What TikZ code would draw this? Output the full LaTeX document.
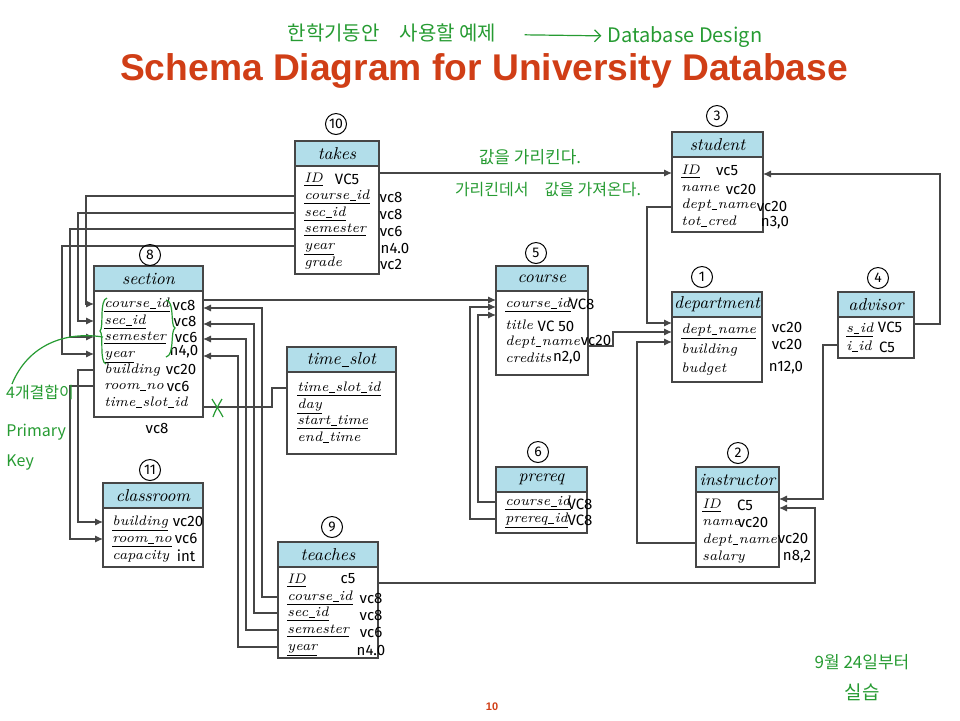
\documentclass[tikz,border=0pt]{standalone}
\usepackage{fontspec}
\newfontfamily\kfont{Noto Sans CJK KR}
\newfontfamily\headfont{Liberation Sans}
\newfontfamily\penfont{Fira Sans}
\usepackage{xcolor}
\usetikzlibrary{positioning, arrows.meta}

\definecolor{hdrblue}{RGB}{178,222,234}
\definecolor{frame}{RGB}{70,70,70}
\definecolor{titlered}{RGB}{208,62,22}
\definecolor{pen}{RGB}{38,155,50}

% short underscore for attribute names
\newcommand{\usc}{\kern.04em\rule[-.12em]{.42em}{.045em}\kern.04em}

\begin{document}
\begin{tikzpicture}[
    x=0.5pt, y=-0.5pt,
    hdr/.style  = {draw=frame, line width=0.6pt, fill=hdrblue, anchor=north west,
                   minimum height=12.5pt, inner sep=0pt, outer sep=0pt,
                   font=\fontsize{8.6}{9}\selectfont\itshape},
    body/.style = {draw=frame, line width=0.6pt, fill=white, inner sep=0pt, outer sep=0pt},
    attr/.style = {anchor=west, inner sep=0pt, text height=5pt, text depth=1.8pt,
                   font=\fontsize{6.9}{8}\selectfont\itshape},
    wire/.style = {draw=frame, line width=0.55pt},
    fk/.style   = {wire, -{Latex[length=4pt,width=3.6pt]}},
    ty/.style   = {inner sep=0pt, font=\penfont\fontsize{7.5}{8}\selectfont},
    num/.style  = {circle, draw, line width=0.5pt, inner sep=0pt, minimum size=10.5pt,
                   font=\penfont\fontsize{7}{7}\selectfont},
    note/.style = {text=pen, inner sep=0pt, font=\kfont\fontsize{8.5}{9}\selectfont},
    penline/.style = {draw=pen, line width=0.6pt}
]
\useasboundingbox (0,0) rectangle (960,720);

% Title, page number
\node[text=titlered, font=\headfont\bfseries\fontsize{18.6}{20}\selectfont] (title) at (484,71)
    {Schema Diagram for University Database};
\node[text=titlered, font=\headfont\bfseries\fontsize{5.5}{6}\selectfont] (pageno) at (492,707) {10};

% takes
\node[hdr, minimum width=42pt] (takes) at (295,141) {takes};
\node[body, minimum width=42pt, minimum height=54pt, below=0pt of takes] (takes-b) {};
\node[attr] (takes-id)  at (304,179) {\underline{ID}};
\node[attr] (takes-cid) at (304,196) {\underline{course\usc id}};
\node[attr] (takes-sid) at (304,213) {\underline{sec\usc id}};
\node[attr] (takes-sem) at (304,229) {\underline{semester}};
\node[attr] (takes-yr)  at (304,246) {\underline{year}};
\node[attr] (takes-gr)  at (304,263) {grade};

% student
\node[hdr, minimum width=45.5pt] (student) at (672,132) {student};
\node[body, minimum width=45.5pt, minimum height=37.5pt, below=0pt of student] (stu-b) {};
\node[attr] (stu-id)   at (681,171) {\underline{ID}};
\node[attr] (stu-name) at (681,188) {name};
\node[attr] (stu-dept) at (681,205) {dept\usc name};
\node[attr] (stu-cred) at (681,222) {tot\usc cred};

% section
\node[hdr, minimum width=54.5pt] (section) at (94,266) {section};
\node[body, minimum width=54.5pt, minimum height=63pt, below=0pt of section] (sect-b) {};
\node[attr] (sect-cid)  at (104,304) {\underline{course\usc id}};
\node[attr] (sect-sid)  at (104,321) {\underline{sec\usc id}};
\node[attr] (sect-sem)  at (104,337) {\underline{semester}};
\node[attr] (sect-yr)   at (104,354) {\underline{year}};
\node[attr] (sect-bld)  at (104,370) {building};
\node[attr] (sect-room) at (104,386) {room\usc no};
\node[attr] (sect-ts)   at (104,403) {time\usc slot\usc id};

% time_slot
\node[hdr, minimum width=54.5pt] (timeslot) at (287,347) {time\usc slot};
\node[body, minimum width=54.5pt, minimum height=41pt, below=0pt of timeslot] (ts-b) {};
\node[attr] (ts-id)    at (297,388) {\underline{time\usc slot\usc id}};
\node[attr] (ts-day)   at (297,405) {\underline{day}};
\node[attr] (ts-start) at (297,421) {\underline{start\usc time}};
\node[attr] (ts-end)   at (297,438) {end\usc time};

% course
\node[hdr, minimum width=46pt] (course) at (496,266) {course};
\node[body, minimum width=46pt, minimum height=42pt, below=0pt of course] (crs-b) {};
\node[attr] (crs-cid)   at (505,304) {\underline{course\usc id}};
\node[attr] (crs-title) at (505,326) {title};
\node[attr] (crs-dept)  at (505,342) {dept\usc name};
\node[attr] (crs-cred)  at (505,359) {credits};

% department
\node[hdr, minimum width=45pt] (department) at (672,292) {department};
\node[body, minimum width=45pt, minimum height=32.5pt, below=0pt of department] (dep-b) {};
\node[attr] (dep-name) at (681,330) {\underline{dept\usc name}};
\node[attr] (dep-bld)  at (681,350) {building};
\node[attr] (dep-bud)  at (681,369) {budget};

% advisor
\node[hdr, minimum width=38pt] (advisor) at (838,292) {advisor};
\node[body, minimum width=38pt, minimum height=20.5pt, below=0pt of advisor] (adv-b) {};
\node[attr] (adv-sid) at (846,329) {\underline{s\usc id}};
\node[attr] (adv-iid) at (846,347) {i\usc id};

% classroom
\node[hdr, minimum width=50pt] (classroom) at (103,483) {classroom};
\node[body, minimum width=50pt, minimum height=29.5pt, below=0pt of classroom] (cls-b) {};
\node[attr] (cls-bld)  at (112,522) {\underline{building}};
\node[attr] (cls-room) at (112,539) {\underline{room\usc no}};
\node[attr] (cls-cap)  at (112,556) {capacity};

% teaches
\node[hdr, minimum width=50pt] (teaches) at (278,542) {teaches};
\node[body, minimum width=50pt, minimum height=45.5pt, below=0pt of teaches] (tch-b) {};
\node[attr] (tch-id)  at (287,580) {\underline{ID}};
\node[attr] (tch-cid) at (287,597) {\underline{course\usc id}};
\node[attr] (tch-sid) at (287,613) {\underline{sec\usc id}};
\node[attr] (tch-sem) at (287,630) {\underline{semester}};
\node[attr] (tch-yr)  at (287,647) {\underline{year}};

% prereq
\node[hdr, minimum width=45.5pt] (prereq) at (496,467) {prereq};
\node[body, minimum width=45.5pt, minimum height=20.5pt, below=0pt of prereq] (pre-b) {};
\node[attr] (pre-cid) at (505,502) {\underline{course\usc id}};
\node[attr] (pre-pid) at (505,519) {\underline{prereq\usc id}};

% instructor
\node[hdr, minimum width=41.5pt] (instructor) at (696,467) {instructor};
\node[body, minimum width=41.5pt, minimum height=37.5pt, below=0pt of instructor] (ins-b) {};
\node[attr] (ins-id)   at (702,505) {\underline{ID}};
\node[attr] (ins-name) at (702,522) {name};
\node[attr] (ins-dept) at (702,540) {dept\usc name};
\node[attr] (ins-sal)  at (702,557) {salary};

% foreign keys
\draw[fk] ([yshift=3pt]takes-id -| takes-b.east) -- ([yshift=3pt]takes-id -| stu-b.west);
\draw[fk] (takes-cid -| takes-b.west) -- ++(-209,0) |- (sect-cid -| sect-b.west);
\draw[fk] (takes-sid -| takes-b.west) -- ++(-217,0) |- (sect-sid -| sect-b.west);
\draw[fk] (takes-sem -| takes-b.west) -- ++(-225,0) |- (sect-sem -| sect-b.west);
\draw[fk] (takes-yr -| takes-b.west)  -- ++(-233,0) |- (sect-yr -| sect-b.west);

\draw[fk] (sect-bld -| sect-b.west)  -- ++(-16,0) |- (cls-bld -| cls-b.west);
\draw[fk] (sect-room -| sect-b.west) -- ++(-24,0) |- (cls-room -| cls-b.west);

\draw[fk] (tch-cid -| tch-b.west) -- ++(-16,0) |- ([yshift=-2pt]sect-cid -| sect-b.east);
\draw[fk] (tch-sid -| tch-b.west) -- ++(-24,0) |- ([yshift=-1.5pt]sect-sid -| sect-b.east);
\draw[fk] (tch-sem -| tch-b.west) -- ++(-32,0) |- ([yshift=-1pt]sect-sem -| sect-b.east);
\draw[fk] (tch-yr -| tch-b.west)  -- ++(-40,0) |- ([yshift=-1pt]sect-yr -| sect-b.east);

\draw[wire] ([yshift=-2pt]sect-ts -| sect-b.east) -- ++(69,0) |- (ts-id -| ts-b.west);

\draw[fk] ([yshift=2pt]sect-cid -| sect-b.east) -- ([yshift=2pt]sect-cid -| crs-b.west);
\draw[fk] (pre-cid -| pre-b.west) -- ++(-18,0) |- ([yshift=-5.5pt]crs-cid -| crs-b.west);
\draw[fk] (pre-pid -| pre-b.west) -- ++(-26,0) |- ([yshift=-1.5pt]crs-cid -| crs-b.west);

\draw[fk] ([yshift=-2pt]crs-dept -| crs-b.east) -- ++(25,0) |- ([yshift=-1pt]dep-name -| dep-b.west);
\draw[fk] ([yshift=-1pt]stu-dept -| stu-b.west) -- ++(-25,0) |- ([yshift=3.5pt]dep-name -| dep-b.west);
\draw[fk] ([yshift=-1.5pt]ins-dept -| ins-b.west) -- ++(-59,0) |- ([yshift=-6pt]dep-name -| dep-b.west);

\draw[fk] ([yshift=2.5pt]adv-sid -| adv-b.east) -- ++(26,0) |- ([yshift=-1.5pt]stu-id -| stu-b.east);
\draw[fk] ([yshift=1pt]adv-iid -| adv-b.west) -- ++(-15,0) |- ([yshift=3pt]ins-id -| ins-b.east);
\draw[fk] ([yshift=-1.5pt]tch-id -| tch-b.east) -- ++(437,0) |- ([yshift=-1.5pt]ins-id -| ins-b.east);

% circled numbers
\node[num] (no10) at (336,124) {10};
\node[num] (no3)  at (717,116) {3};
\node[num] (no8)  at (150,255) {8};
\node[num] (no5)  at (536,253) {5};
\node[num] (no1)  at (702,277) {1};
\node[num] (no4)  at (878,278) {4};
\node[num] (no6)  at (538,452) {6};
\node[num] (no2)  at (738,453) {2};
\node[num] (no11) at (150,470) {11};
\node[num] (no9)  at (332,527) {9};

% types
\node[ty] (ty-tk1) at (347,179) {VC5};
\node[ty] (ty-tk2) at (391,197) {vc8};
\node[ty] (ty-tk3) at (391,214) {vc8};
\node[ty] (ty-tk4) at (391,231) {vc6};
\node[ty] (ty-tk5) at (395,248) {n4.0};
\node[ty] (ty-tk6) at (391,264) {vc2};
\node[ty] (ty-st1) at (727,171) {vc5};
\node[ty] (ty-st2) at (741,189) {vc20};
\node[ty] (ty-st3) at (772,206) {vc20};
\node[ty] (ty-st4) at (775,223) {n3,0};
\node[ty] (ty-se1) at (184,305) {vc8};
\node[ty] (ty-se2) at (185,321) {vc8};
\node[ty] (ty-se3) at (186,337) {vc6};
\node[ty] (ty-se4) at (184,352) {n4,0};
\node[ty] (ty-se5) at (181,369) {vc20};
\node[ty] (ty-se6) at (178,386) {vc6};
\node[ty] (ty-se7) at (157,428) {vc8};
\node[ty] (ty-co1) at (582,304) {VC8};
\node[ty] (ty-co2) at (556,326) {VC 50};
\node[ty] (ty-co3) at (596,340) {vc20};
\node[ty] (ty-co4) at (567,358) {n2,0};
\node[ty] (ty-de1) at (787,327) {vc20};
\node[ty] (ty-de2) at (787,344) {vc20};
\node[ty] (ty-de3) at (786,368) {n12,0};
\node[ty] (ty-ad1) at (890,327) {VC5};
\node[ty] (ty-ad2) at (887,347) {C5};
\node[ty] (ty-cl1) at (188,521) {vc20};
\node[ty] (ty-cl2) at (186,538) {vc6};
\node[ty] (ty-cl3) at (186,556) {int};
\node[ty] (ty-te1) at (348,579) {c5};
\node[ty] (ty-te2) at (371,598) {vc8};
\node[ty] (ty-te3) at (371,615) {vc8};
\node[ty] (ty-te4) at (371,632) {vc6};
\node[ty] (ty-te5) at (371,650) {n4.0};
\node[ty] (ty-pr1) at (580,504) {VC8};
\node[ty] (ty-pr2) at (580,520) {VC8};
\node[ty] (ty-in1) at (745,505) {C5};
\node[ty] (ty-in2) at (753,522) {vc20};
\node[ty] (ty-in3) at (793,538) {vc20};
\node[ty] (ty-in4) at (797,557) {n8,2};

% handwritten notes
\node[note, font=\kfont\fontsize{10}{11}\selectfont] (plan) at (392,33) {한학기동안\quad 사용할 예제};
\node[note, font=\kfont\fontsize{10}{11}\selectfont] (dbd) at (685,37) {Database Design};
\draw[penline, -{Straight Barb[length=3pt]}, shorten <=14pt, shorten >=3pt] (plan) -- (dbd);
\node[note] (pt1) at (530,157) {값을 가리킨다.};
\node[note, font=\kfont\fontsize{8}{9}\selectfont] (pt2) at (548,190) {가리킨데서\quad 값을 가져온다.};
\node[note, font=\kfont\fontsize{8}{9}\selectfont] (pk1) at (40,392) {4개결합이};
\node[note, font=\kfont\fontsize{8}{15}\selectfont, align=left, anchor=west] (pk2) at (6,447) {Primary\\Key};
\node[note] (lab1) at (862,662) {9월 24일부터};
\node[note, font=\kfont\fontsize{9.5}{10}\selectfont] (lab2) at (862,692) {실습};

% braces and marks
\draw[penline] (107,298) .. controls (99,300) and (104,328) .. (100,331)
               .. controls (104,334) and (99,362) .. (106,364);
\draw[penline] (166,300) .. controls (175,301) and (170,326) .. (175,328)
               .. controls (170,331) and (175,355) .. (166,357);
\draw[penline] (103,337) .. controls (65,331) and (28,345) .. (12,384);
\draw[penline] (212,399) .. controls (216,406) and (220,411) .. (223,417);
\draw[penline] (222,399) .. controls (218,406) and (215,411) .. (213,417);
\end{tikzpicture}
\end{document}
